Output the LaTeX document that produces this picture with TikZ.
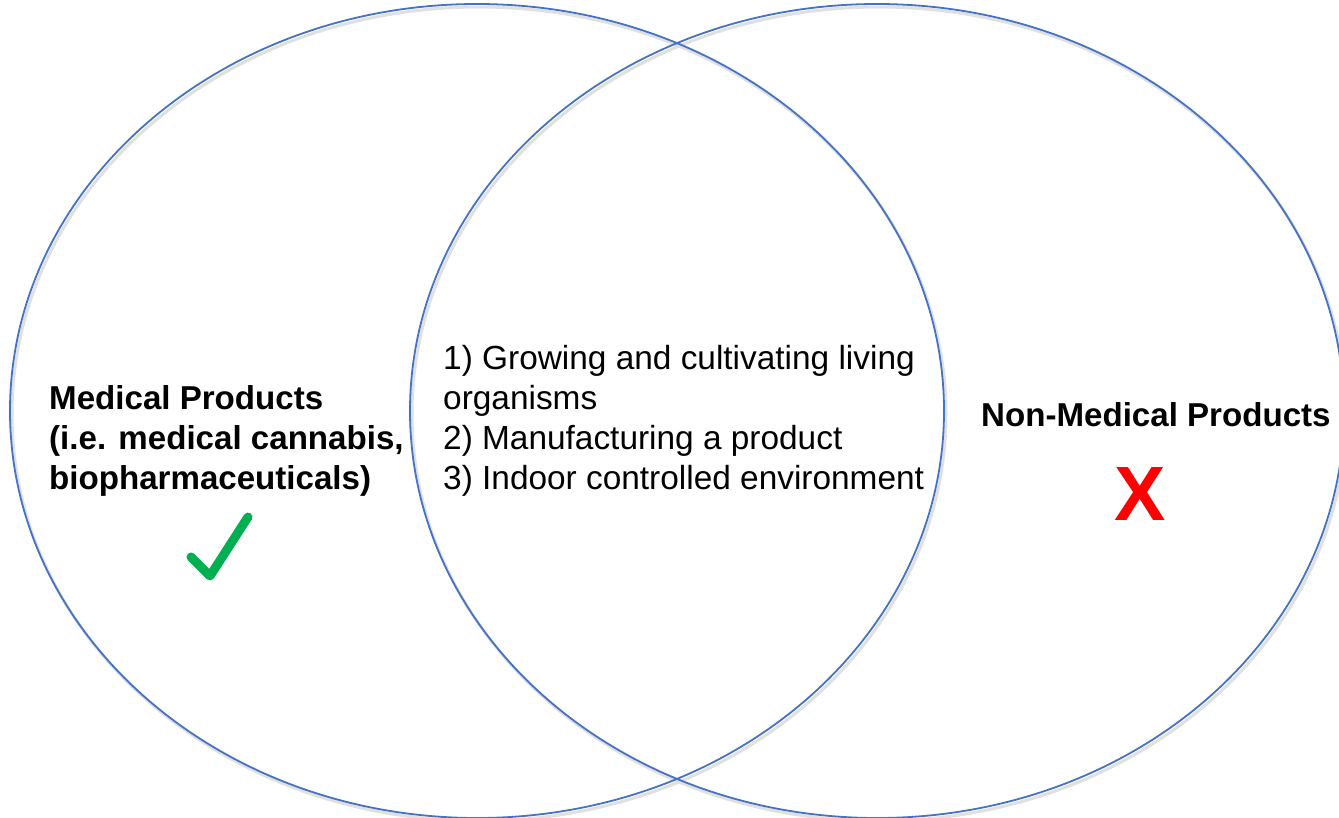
\documentclass[tikz,border=0pt]{standalone}
\usepackage{fontspec}
\setmainfont{Liberation Sans}

\definecolor{vennblue}{RGB}{68,114,196}
\definecolor{tickgreen}{RGB}{0,176,80}
\definecolor{crossred}{RGB}{255,0,0}

\tikzset{
  vennline/.style={draw=vennblue, line width=1.8pt},
  vennshadow/.style={draw=black!12, line width=3pt},
  bodytext/.style={font=\fontsize{33.4}{40}\selectfont, align=left, inner sep=0pt},
  headtext/.style={bodytext, font=\fontsize{33.1}{40}\selectfont\bfseries}
}

\begin{document}
\begin{tikzpicture}[x=1pt,y=-1pt]

% Frame
\useasboundingbox (0,0) rectangle (1339,817);
\clip (0,0) rectangle (1339,817);

% Define centres
\coordinate (L) at (477,411);
\coordinate (R) at (877,411);
\def\rx{467pt}
\def\ry{407pt}

% Soft shadow under the circles
\draw[vennshadow] ([shift={(2,3)}]L) ellipse[x radius=\rx, y radius=\ry];
\draw[vennshadow] ([shift={(2,3)}]R) ellipse[x radius=\rx, y radius=\ry];

% Draw the two circles
\draw[vennline] (L) ellipse[x radius=\rx, y radius=\ry];
\draw[vennline] (R) ellipse[x radius=\rx, y radius=\ry];

% Overlap text (base = last line)
\node[bodytext, anchor=base west] (common) at (443,489)
  {1) Growing and cultivating living\\organisms\\2) Manufacturing a product\\3) Indoor controlled environment};

% Left side
\node[headtext, anchor=base west] (medical) at (49,489)
  {Medical Products\\(i.e. medical cannabis,\\biopharmaceuticals)};
\draw[tickgreen, line width=9pt, line cap=round, line join=round]
  (191,557) -- (210,576) -- (248,517);

% Right side
\node[headtext, anchor=base west] (nonmedical) at (981,426) {Non-Medical Products};
\node[font=\fontsize{77}{80}\selectfont\bfseries, text=crossred, inner sep=0pt, anchor=base]
  (cross) at (1140,520) {X};

\end{tikzpicture}
\end{document}
